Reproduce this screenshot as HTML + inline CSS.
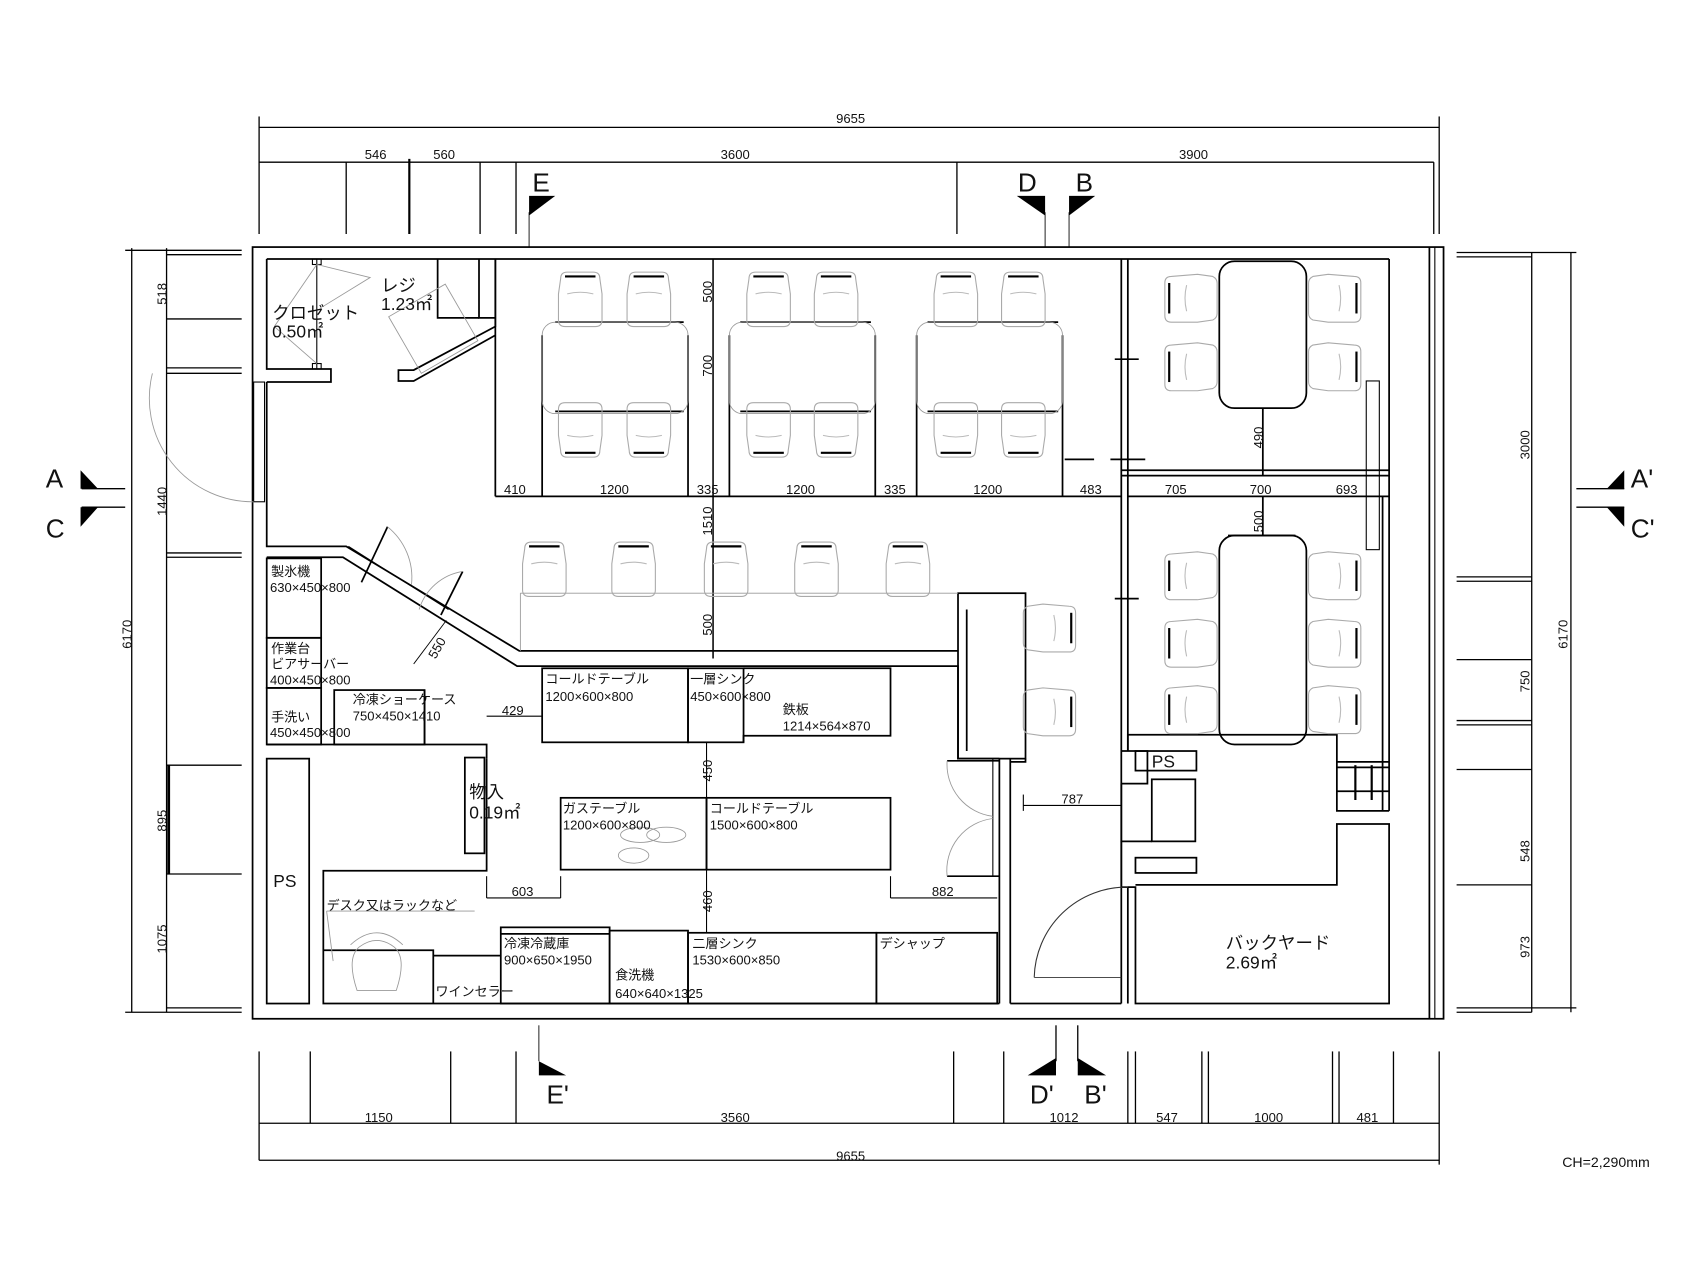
<!DOCTYPE html>
<html><head><meta charset="utf-8"><style>
html,body{margin:0;padding:0;background:#fff;}
svg{display:block;}
text{font-family:"Liberation Sans","Noto Sans CJK JP",sans-serif;fill:#111;}
.d{font-size:12px;font-family:"Liberation Sans Narrow","Liberation Sans",sans-serif;}
.j{font-size:12px;}
.big{font-size:16px;}
</style></head><body>
<svg width="1707" height="1280" viewBox="0 0 1568 1176" preserveAspectRatio="none" xmlns="http://www.w3.org/2000/svg">
<defs>
<g id="chV">
<path d="M4 6 Q4 0 10 0 L34 0 Q40 0 40 6 L42 20 L42 44 Q42 50 36 50 L8 50 Q2 50 2 44 L2 20 Z" fill="none" stroke="#aaa" stroke-width="1"/>
<line x1="8" y1="4" x2="36" y2="4" stroke="#000" stroke-width="2"/>
<path d="M10 20 Q22 17 34 20" fill="none" stroke="#bbb"/>
</g>
<g id="chU">
<path d="M4 44 Q4 50 10 50 L34 50 Q40 50 40 44 L42 30 L42 6 Q42 0 36 0 L8 0 Q2 0 2 6 L2 30 Z" fill="none" stroke="#aaa" stroke-width="1"/>
<line x1="8" y1="46" x2="36" y2="46" stroke="#000" stroke-width="2"/>
<path d="M10 30 Q22 33 34 30" fill="none" stroke="#bbb"/>
</g>
<g id="chL">
<path d="M6 2 Q0 2 0 8 L0 38 Q0 44 6 44 L30 44 L44 42 Q48 40 48 36 L48 8 Q48 4 44 2 L30 0 Z" fill="none" stroke="#aaa"/>
<line x1="4" y1="8" x2="4" y2="36" stroke="#000" stroke-width="2"/>
<path d="M20 10 Q17 22 20 34" fill="none" stroke="#bbb"/>
</g>
<g id="chR">
<path d="M42 2 Q48 2 48 8 L48 38 Q48 44 42 44 L18 44 L4 42 Q0 40 0 36 L0 8 Q0 4 4 2 L18 0 Z" fill="none" stroke="#aaa"/>
<line x1="44" y1="8" x2="44" y2="36" stroke="#000" stroke-width="2"/>
<path d="M28 10 Q31 22 28 34" fill="none" stroke="#bbb"/>
</g>
</defs>
<g stroke="#000" stroke-width="1.2" fill="none">
<line x1="238" y1="117" x2="1322" y2="117"/>
<line x1="238" y1="107" x2="238" y2="215"/><line x1="1322" y1="107" x2="1322" y2="215"/>
<line x1="238" y1="149" x2="1317" y2="149"/>
<line x1="318" y1="149" x2="318" y2="215"/><line x1="376" y1="146" x2="376" y2="215" stroke-width="2"/>
<line x1="441" y1="149" x2="441" y2="215"/><line x1="474" y1="149" x2="474" y2="215"/>
<line x1="879" y1="149" x2="879" y2="215"/><line x1="1317" y1="149" x2="1317" y2="215"/>
<line x1="486" y1="195" x2="486" y2="227" stroke-width="0.8"/>
<line x1="960" y1="195" x2="960" y2="227" stroke-width="0.8"/>
<line x1="982" y1="195" x2="982" y2="227" stroke-width="0.8"/>
<line x1="238" y1="1032" x2="1322" y2="1032"/>
<line x1="238" y1="1066" x2="1322" y2="1066"/>
<line x1="238" y1="966" x2="238" y2="1066"/><line x1="1322" y1="966" x2="1322" y2="1070"/>
<line x1="285" y1="966" x2="285" y2="1032"/><line x1="414" y1="966" x2="414" y2="1032"/>
<line x1="474" y1="966" x2="474" y2="1032"/><line x1="876" y1="966" x2="876" y2="1032"/>
<line x1="922" y1="966" x2="922" y2="1032"/><line x1="1036" y1="966" x2="1036" y2="1032"/>
<line x1="1043" y1="966" x2="1043" y2="1032"/><line x1="1104" y1="966" x2="1104" y2="1032"/>
<line x1="1110" y1="966" x2="1110" y2="1032"/><line x1="1224" y1="966" x2="1224" y2="1032"/>
<line x1="1230" y1="966" x2="1230" y2="1032"/><line x1="1280" y1="966" x2="1280" y2="1032"/>
<line x1="495" y1="942" x2="495" y2="975" stroke-width="0.8"/>
<line x1="970" y1="942" x2="970" y2="975"/><line x1="990" y1="942" x2="990" y2="975"/>
<line x1="121" y1="228" x2="121" y2="930"/>
<line x1="153" y1="228" x2="153" y2="930"/>
<line x1="115" y1="230" x2="222" y2="230"/><line x1="153" y1="234" x2="222" y2="234"/>
<line x1="153" y1="293" x2="222" y2="293"/>
<line x1="153" y1="338" x2="222" y2="338"/><line x1="153" y1="343" x2="222" y2="343"/>
<line x1="153" y1="508" x2="222" y2="508"/><line x1="153" y1="512" x2="222" y2="512"/>
<line x1="153" y1="703" x2="222" y2="703"/><line x1="155" y1="703" x2="155" y2="803" stroke-width="2.5"/>
<line x1="153" y1="803" x2="222" y2="803"/>
<line x1="115" y1="930" x2="222" y2="930"/><line x1="153" y1="926" x2="222" y2="926"/>
<line x1="75" y1="449" x2="115" y2="449"/><line x1="75" y1="466" x2="115" y2="466"/>
<line x1="1443" y1="232" x2="1443" y2="930"/>
<line x1="1407" y1="232" x2="1407" y2="930"/>
<line x1="1338" y1="232" x2="1448" y2="232"/><line x1="1338" y1="236" x2="1407" y2="236"/>
<line x1="1338" y1="530" x2="1407" y2="530"/><line x1="1338" y1="534" x2="1407" y2="534"/>
<line x1="1338" y1="606" x2="1407" y2="606"/>
<line x1="1338" y1="662" x2="1407" y2="662"/><line x1="1338" y1="666" x2="1407" y2="666"/>
<line x1="1338" y1="707" x2="1407" y2="707"/>
<line x1="1338" y1="813" x2="1407" y2="813"/>
<line x1="1338" y1="926" x2="1448" y2="926"/><line x1="1338" y1="930" x2="1407" y2="930"/>
<line x1="1448" y1="449" x2="1492" y2="449"/><line x1="1448" y1="466" x2="1492" y2="466"/>
</g>
<g fill="#000">
<polygon points="486,180 510,180 486,198"/><polygon points="934,180 960,180 960,198"/><polygon points="982,180 1006,180 982,198"/>
<polygon points="495,975 495,988 520,988"/><polygon points="970,972 970,988 944,988"/><polygon points="990,972 990,988 1016,988"/>
<polygon points="74,432 74,449 90,449"/><polygon points="74,466 90,466 74,484"/>
<polygon points="1492,432 1492,449 1476,449"/><polygon points="1492,466 1476,466 1492,484"/>
</g>
<g font-size="24" font-family="Liberation Sans Narrow,Liberation Sans,sans-serif">
<text x="489" y="176">E</text><text x="935" y="176">D</text><text x="988" y="176">B</text>
<text x="502" y="1014">E'</text><text x="946" y="1014">D'</text><text x="996" y="1014">B'</text>
<text x="42" y="448">A</text><text x="42" y="494">C</text>
<text x="1498" y="448">A'</text><text x="1498" y="494">C'</text>
</g>
<g stroke="#000" stroke-width="1.6" fill="none">
<rect x="232" y="227" width="1094" height="709"/>
<line x1="1313" y1="227" x2="1313" y2="936"/>
<line x1="1318" y1="227" x2="1318" y2="936" stroke-width="1"/>
<polyline points="245,351 245,502 318,502 477,598 880,598"/>
<polyline points="245,512 315,512 475,612 880,612 880,697 918,697"/>
<line x1="245" y1="238" x2="1276" y2="238"/>
<line x1="1276" y1="238" x2="1276" y2="745"/>
<polyline points="245,238 245,339 304,339 304,351 245,351"/>
<rect x="233" y="351" width="10" height="110" stroke-width="1"/>
<polyline points="440,238 440,292 455,292"/>
<polyline points="402,238 402,292 440,292"/>
<polyline points="455,238 455,300 380,340 366,340 366,350 380,350 455,308"/>
<rect x="368" y="272" width="60" height="60" transform="rotate(-30 398 302)" stroke="#999" stroke-width="0.8"/>
<line x1="291" y1="238" x2="291" y2="339" stroke-width="1"/>
<rect x="287" y="238" width="8" height="5" stroke-width="1"/><rect x="287" y="334" width="8" height="5" stroke-width="1"/>
<line x1="455" y1="238" x2="455" y2="456"/>
<line x1="655" y1="238" x2="655" y2="605" stroke-width="1.4"/>
<line x1="455" y1="456" x2="1030" y2="456"/>
<line x1="1030" y1="238" x2="1030" y2="690"/>
<line x1="1036" y1="238" x2="1036" y2="690"/>
<line x1="1030" y1="432" x2="1276" y2="432"/>
<line x1="1030" y1="437" x2="1276" y2="437"/>
<line x1="1036" y1="456" x2="1276" y2="456"/>
<line x1="1024" y1="330" x2="1046" y2="330"/><line x1="1024" y1="550" x2="1046" y2="550"/>
<line x1="978" y1="422" x2="1005" y2="422"/><line x1="1020" y1="422" x2="1052" y2="422"/>
<rect x="1255" y="350" width="12" height="155" stroke-width="1"/>
<line x1="510" y1="296" x2="628" y2="296"/><line x1="510" y1="378" x2="628" y2="378"/>
<line x1="680" y1="296" x2="800" y2="296"/><line x1="680" y1="378" x2="800" y2="378"/>
<line x1="852" y1="296" x2="972" y2="296"/><line x1="852" y1="378" x2="972" y2="378"/>
<line x1="498" y1="308" x2="498" y2="456"/><line x1="632" y1="308" x2="632" y2="456"/>
<line x1="670" y1="308" x2="670" y2="456"/><line x1="804" y1="308" x2="804" y2="456"/>
<line x1="842" y1="308" x2="842" y2="456"/><line x1="976" y1="308" x2="976" y2="456"/>
<rect x="1120" y="240" width="80" height="135" rx="14"/>
<rect x="1120" y="492" width="80" height="192" rx="14"/>
<line x1="1160" y1="375" x2="1160" y2="437"/><line x1="1160" y1="456" x2="1160" y2="492"/>
<line x1="1128" y1="492" x2="1190" y2="492"/>
<rect x="880" y="545" width="62" height="152"/>
<line x1="888" y1="560" x2="888" y2="690"/>
<rect x="245" y="513" width="50" height="73"/>
<rect x="245" y="586" width="50" height="46"/>
<rect x="245" y="632" width="50" height="52"/>
<rect x="307" y="634" width="83" height="50"/>
<polyline points="245,684 447,684 447,697"/>
<line x1="390" y1="634" x2="390" y2="684"/>
<rect x="498" y="614" width="134" height="68"/>
<rect x="632" y="614" width="51" height="68"/>
<polyline points="683,614 818,614 818,676 683,676 683,682"/>
<polyline points="447,697 447,800 297,800 297,922 918,922"/>
<rect x="427" y="696" width="18" height="88"/>
<rect x="245" y="697" width="39" height="225"/>
<rect x="515" y="733" width="134" height="66"/>
<rect x="649" y="733" width="169" height="66"/>
<polyline points="297,873 398,873 398,922"/>
<line x1="398" y1="878" x2="460" y2="878"/>
<rect x="460" y="852" width="100" height="70"/>
<line x1="460" y1="858" x2="560" y2="858"/>
<rect x="560" y="855" width="72" height="67"/>
<rect x="632" y="857" width="173" height="65"/>
<rect x="805" y="857" width="111" height="65"/>
<line x1="918" y1="697" x2="918" y2="922"/>
<line x1="928" y1="697" x2="928" y2="922"/>
<line x1="912" y1="697" x2="912" y2="805" stroke-width="1"/>
<line x1="870" y1="699" x2="918" y2="699"/>
<line x1="870" y1="805" x2="918" y2="805"/>
<polyline points="942,697 942,700 928,700"/>
<polyline points="1030,690 1030,922"/>
<polyline points="928,922 1030,922"/>
<polyline points="1030,690 1054,690 1054,720 1030,720"/>
<rect x="1043" y="690" width="56" height="18"/>
<polyline points="1036,690 1036,675 1228,675 1228,745 1276,745"/>
<line x1="1270" y1="456" x2="1270" y2="745"/>
<line x1="1228" y1="700" x2="1276" y2="700"/><line x1="1228" y1="705" x2="1276" y2="705"/>
<line x1="1228" y1="727" x2="1276" y2="727"/>
<line x1="1245" y1="703" x2="1245" y2="735" stroke-width="2"/><line x1="1260" y1="703" x2="1260" y2="735" stroke-width="2"/>
<rect x="1058" y="716" width="40" height="57"/>
<polyline points="1030,720 1030,773 1058,773"/>
<rect x="1043" y="788" width="56" height="14"/>
<polyline points="1030,773 1030,815 1043,815 1043,922 1276,922 1276,757 1228,757 1228,813 1043,813"/>
<line x1="1036" y1="815" x2="1036" y2="922"/>
<line x1="940" y1="740" x2="1030" y2="740" stroke-width="1"/>
<line x1="940" y1="730" x2="940" y2="745" stroke-width="1"/><line x1="1030" y1="730" x2="1030" y2="745" stroke-width="1"/>
<line x1="447" y1="658" x2="498" y2="658" stroke-width="1"/>
<line x1="447" y1="805" x2="447" y2="825" stroke-width="1"/><line x1="447" y1="825" x2="515" y2="825" stroke-width="1"/><line x1="515" y1="805" x2="515" y2="825" stroke-width="1"/>
<line x1="818" y1="805" x2="818" y2="825" stroke-width="1"/><line x1="818" y1="825" x2="916" y2="825" stroke-width="1"/>
<line x1="649" y1="682" x2="649" y2="733" stroke-width="1"/>
<line x1="649" y1="799" x2="649" y2="857" stroke-width="1"/>
<line x1="380" y1="610" x2="410" y2="570" stroke-width="0.8"/>
<line x1="332" y1="535" x2="356" y2="484"/><line x1="405" y1="565" x2="425" y2="525"/>
<line x1="320" y1="502" x2="412" y2="560" stroke-width="1"/>
</g>
<g stroke="#999" stroke-width="0.8" fill="none">
<path d="M140 343 A95 95 0 0 0 233 461"/>
<path d="M356 484 A60 60 0 0 1 378 537"/>
<path d="M425 525 A50 50 0 0 0 385 560"/>
<path d="M870 699 A48 48 0 0 0 912 750"/>
<path d="M912 752 A48 48 0 0 0 870 805"/>
<path d="M950 898 A85 85 0 0 1 1036 815" stroke="#333" stroke-width="1"/>
<line x1="950" y1="898" x2="1030" y2="898" stroke="#333"/>
<polyline points="252,300 291,243 340,255 296,282"/>
<polyline points="252,300 291,334"/>
<rect x="498" y="296" width="134" height="84" rx="12"/>
<rect x="670" y="296" width="134" height="84" rx="12"/>
<rect x="842" y="296" width="134" height="84" rx="12"/>
<polyline points="478,545 478,598"/><line x1="478" y1="545" x2="880" y2="545"/>
<line x1="300" y1="837" x2="436" y2="837"/><line x1="300" y1="837" x2="306" y2="883"/>
<ellipse cx="588" cy="767" rx="18" ry="7"/><ellipse cx="612" cy="767" rx="18" ry="7"/><ellipse cx="582" cy="786" rx="14" ry="7"/>
<path d="M328 910 Q318 880 330 870 Q346 858 362 870 Q374 880 364 910 Z"/>
<path d="M322 868 Q346 846 370 868"/>
</g>
<use href="#chV" x="511" y="250"/><use href="#chV" x="574" y="250"/>
<use href="#chV" x="684" y="250"/><use href="#chV" x="746" y="250"/>
<use href="#chV" x="856" y="250"/><use href="#chV" x="918" y="250"/>
<use href="#chU" x="511" y="370"/><use href="#chU" x="574" y="370"/>
<use href="#chU" x="684" y="370"/><use href="#chU" x="746" y="370"/>
<use href="#chU" x="856" y="370"/><use href="#chU" x="918" y="370"/>
<use href="#chV" x="478" y="498"/><use href="#chV" x="560" y="498"/><use href="#chV" x="645" y="498"/><use href="#chV" x="728" y="498"/><use href="#chV" x="812" y="498"/>
<use href="#chR" x="940" y="555"/><use href="#chR" x="940" y="632"/>
<use href="#chL" x="1070" y="252"/><use href="#chL" x="1070" y="315"/>
<use href="#chR" x="1202" y="252"/><use href="#chR" x="1202" y="315"/>
<use href="#chL" x="1070" y="507"/><use href="#chL" x="1070" y="569"/><use href="#chL" x="1070" y="630"/>
<use href="#chR" x="1202" y="507"/><use href="#chR" x="1202" y="569"/><use href="#chR" x="1202" y="630"/>
<g class="d">
<text x="768" y="113">9655</text><text x="335" y="146">546</text><text x="398" y="146">560</text>
<text x="662" y="146">3600</text><text x="1083" y="146">3900</text>
<text x="335" y="1031">1150</text><text x="662" y="1031">3560</text><text x="964" y="1031">1012</text>
<text x="1062" y="1031">547</text><text x="1152" y="1031">1000</text><text x="1246" y="1031">481</text>
<text x="768" y="1066">9655</text>
<text x="463" y="454">410</text><text x="551" y="454">1200</text><text x="640" y="454">335</text>
<text x="722" y="454">1200</text><text x="812" y="454">335</text><text x="894" y="454">1200</text>
<text x="992" y="454">483</text><text x="1070" y="454">705</text><text x="1148" y="454">700</text><text x="1227" y="454">693</text>
<text x="461" y="657">429</text><text x="470" y="823">603</text><text x="856" y="823">882</text><text x="975" y="738">787</text>
</g>
<g class="d">
<text transform="translate(153,280) rotate(-90)">518</text>
<text transform="translate(153,474) rotate(-90)">1440</text>
<text transform="translate(121,596) rotate(-90)">6170</text>
<text transform="translate(153,764) rotate(-90)">895</text>
<text transform="translate(153,876) rotate(-90)">1075</text>
<text transform="translate(1405,422) rotate(-90)">3000</text>
<text transform="translate(1440,596) rotate(-90)">6170</text>
<text transform="translate(1405,636) rotate(-90)">750</text>
<text transform="translate(1405,792) rotate(-90)">548</text>
<text transform="translate(1405,880) rotate(-90)">973</text>
<text transform="translate(654,278) rotate(-90)">500</text>
<text transform="translate(654,346) rotate(-90)">700</text>
<text transform="translate(654,492) rotate(-90)">1510</text>
<text transform="translate(654,584) rotate(-90)">500</text>
<text transform="translate(654,718) rotate(-90)">450</text>
<text transform="translate(654,838) rotate(-90)">460</text>
<text transform="translate(1160,412) rotate(-90)">490</text>
<text transform="translate(1160,489) rotate(-90)">500</text>
<text transform="translate(400,606) rotate(-60)">550</text>
</g>
<g class="big">
<text x="250" y="293">クロゼット</text><text x="250" y="310">0.50㎡</text>
<text x="350" y="268">レジ</text><text x="350" y="285">1.23㎡</text>
<text x="431" y="733">物入</text><text x="431" y="752">0.19㎡</text>
<text x="1126" y="872">バックヤード</text><text x="1126" y="890">2.69㎡</text>
<text x="251" y="815">PS</text><text x="1058" y="705">PS</text>
</g>
<g class="j">
<text x="249" y="529">製氷機</text><text x="248" y="544" class="d">630×450×800</text>
<text x="249" y="600">作業台</text><text x="249" y="614">ビアサーバー</text><text x="248" y="629" class="d">400×450×800</text>
<text x="249" y="663">手洗い</text><text x="248" y="677" class="d">450×450×800</text>
<text x="324" y="647">冷凍ショーケース</text><text x="324" y="662" class="d">750×450×1410</text>
<text x="501" y="628">コールドテーブル</text><text x="501" y="644" class="d">1200×600×800</text>
<text x="634" y="628">一層シンク</text><text x="634" y="644" class="d">450×600×800</text>
<text x="719" y="656">鉄板</text><text x="719" y="671" class="d">1214×564×870</text>
<text x="517" y="747">ガステーブル</text><text x="517" y="762" class="d">1200×600×800</text>
<text x="652" y="747">コールドテーブル</text><text x="652" y="762" class="d">1500×600×800</text>
<text x="300" y="836">デスク又はラックなど</text>
<text x="463" y="871">冷凍冷蔵庫</text><text x="463" y="886" class="d">900×650×1950</text>
<text x="565" y="900">食洗機</text><text x="565" y="917" class="d">640×640×1325</text>
<text x="400" y="915">ワインセラー</text>
<text x="636" y="871">二層シンク</text><text x="636" y="886" class="d">1530×600×850</text>
<text x="808" y="871">デシャップ</text>
</g>
<text x="1435" y="1072" style="font-size:13px">CH=2,290mm</text>
</svg>
</body></html>
